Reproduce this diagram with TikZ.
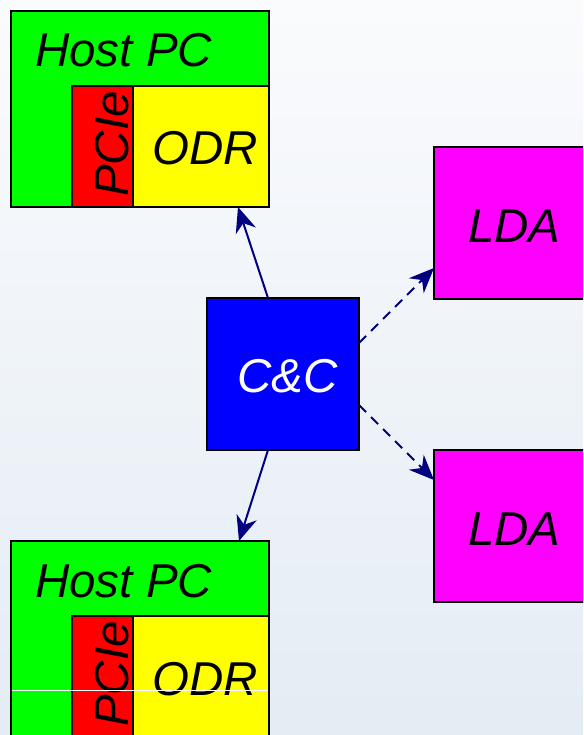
\documentclass[tikz,border=0pt]{standalone}
\usepackage{fontspec}
\setmainfont{Liberation Sans}
\usetikzlibrary{arrows.meta}
\definecolor{navyc}{RGB}{0,0,128}
\definecolor{bgtop}{RGB}{250,251,253}
\definecolor{bgbot}{RGB}{228,236,244}
\definecolor{hgreen}{RGB}{0,255,0}
\definecolor{hred}{RGB}{255,0,0}
\definecolor{hyellow}{RGB}{255,255,0}
\definecolor{hmag}{RGB}{255,0,255}
\definecolor{hblue}{RGB}{0,0,255}
\tikzset{
  box/.style={draw=black, line width=2.5pt, anchor=north west, inner sep=0pt, outer sep=0pt},
  lbl/.style={font=\fontsize{47.5}{50}\selectfont\itshape, inner sep=0pt, anchor=base west},
  arr/.style={draw=navyc, line width=2pt, -{Stealth[length=25pt,width=21pt,inset=8pt]}},
  darr/.style={arr, dash pattern=on 10pt off 7pt}
}
\begin{document}
\begin{tikzpicture}[x=1pt,y=-1pt]
\useasboundingbox (0,0) rectangle (583,735);
\clip (0,0) rectangle (583,735);
\shade[top color=bgtop, bottom color=bgbot] (0,0) rectangle (583,735);
% top host
\node[box, fill=hgreen, minimum width=258pt, minimum height=196pt] (host1) at (11,11) {};
\node[box, fill=hred, minimum width=61pt, minimum height=121pt] (pcie1) at (72,86) {};
\node[box, fill=hyellow, minimum width=136pt, minimum height=121pt] (odr1) at (133,86) {};
\node[lbl] (host1t) at (35,67) {Host PC};
\node[lbl, rotate=90] (pcie1t) at (128,197) {PCIe};
\node[lbl] (odr1t) at (152,165) {ODR};
% bottom host
\node[box, fill=hgreen, minimum width=258pt, minimum height=196pt] (host2) at (11,541) {};
\node[box, fill=hred, minimum width=61pt, minimum height=121pt] (pcie2) at (72,616) {};
\node[box, fill=hyellow, minimum width=136pt, minimum height=121pt] (odr2) at (133,616) {};
\node[lbl] (host2t) at (35,597) {Host PC};
\node[lbl, rotate=90] (pcie2t) at (128,727) {PCIe};
\node[lbl] (odr2t) at (152,695) {ODR};
\coordinate (wl1) at (12,690);
\coordinate (wl2) at (268,690);
\draw[white, line width=0.8pt] (wl1) -- (wl2);
% LDA
\node[box, fill=hmag, minimum width=152pt, minimum height=152pt] (lda1) at (434,147) {};
\node[lbl] (lda1t) at (468,242) {LDA};
\node[box, fill=hmag, minimum width=152pt, minimum height=152pt] (lda2) at (434,450) {};
\node[lbl] (lda2t) at (468,545) {LDA};
% C&C
\node[box, fill=hblue, minimum width=152pt, minimum height=152pt] (cc) at (207,298) {};
\node[lbl, text=white] (cct) at (237,392) {C\&C};
% arrows
\draw[arr] ([xshift=-15pt]cc.north) -- ([xshift=-31pt]host1.south east);
\draw[arr] ([xshift=-15pt]cc.south) -- ([xshift=-30pt]host2.north east);
\draw[darr] ([yshift=31pt]cc.east) -- ([yshift=31pt]lda1.south west);
\draw[darr] ([yshift=-31pt]cc.east) -- ([yshift=-30pt]lda2.north west);
\end{tikzpicture}
\end{document}
